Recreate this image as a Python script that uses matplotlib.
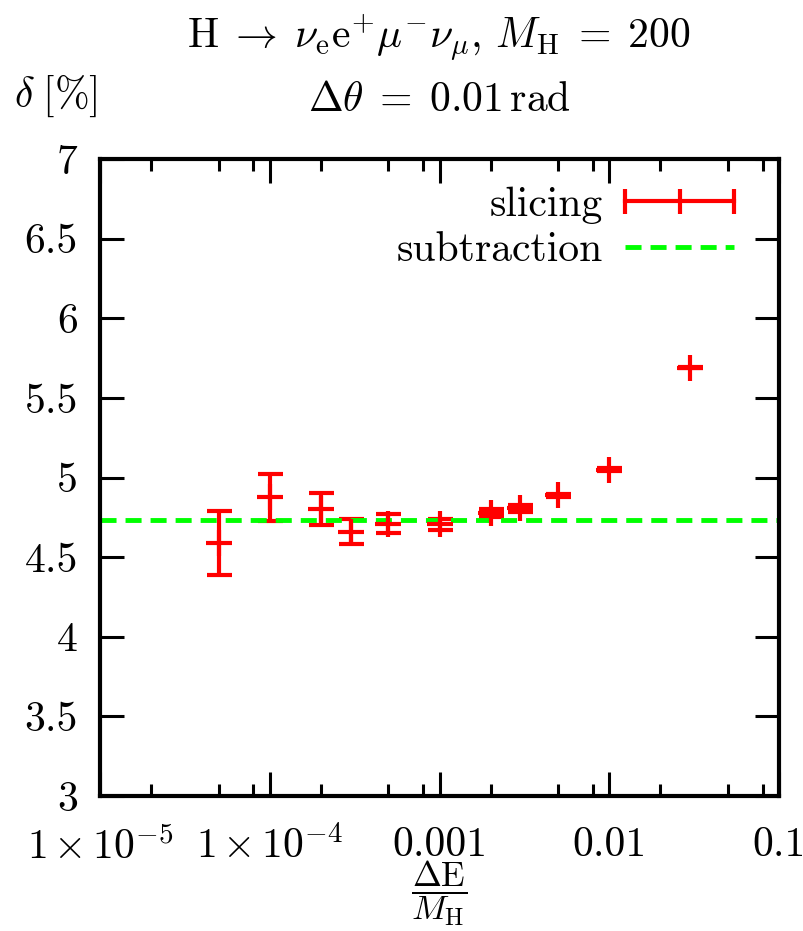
import numpy as np
import matplotlib
matplotlib.use("Agg")
import matplotlib.pyplot as plt
from matplotlib.lines import Line2D
from matplotlib.legend_handler import HandlerBase
from matplotlib.ticker import FixedLocator, NullFormatter

plt.rcParams['font.family'] = 'cmr10'
plt.rcParams['mathtext.fontset'] = 'cm'
plt.rcParams['axes.formatter.use_mathtext'] = True

# data
dE = [5e-5, 1e-4, 2e-4, 3e-4, 5e-4, 1e-3, 2e-3, 3e-3, 5e-3, 1e-2, 3e-2]
delta_slicing = [4.59, 4.875, 4.80, 4.66, 4.71, 4.705, 4.78, 4.806, 4.887, 5.05, 5.69]
delta_err = [0.20, 0.15, 0.10, 0.08, 0.06, 0.035, 0.025, 0.02, 0.01, 0.008, 0.005]
delta_subtraction = 4.73

xticks = [1e-5, 1e-4, 1e-3, 1e-2, 1e-1]
xtick_labels = [r'$1\,{\times}\,10^{-5}$', r'$1\,{\times}\,10^{-4}$', '0.001', '0.01', '0.1']
yticks = [3, 3.5, 4, 4.5, 5, 5.5, 6, 6.5, 7]
ytick_labels = ['3', '3.5', '4', '4.5', '5', '5.5', '6', '6.5', '7']

RED = '#ff0000'
GREEN = '#00ff00'
FS = 30
LW = 3


class HandlerHErr(HandlerBase):
    # gnuplot style key sample: horizontal bar with caps and middle tick
    def create_artists(self, legend, orig_handle, xdescent, ydescent,
                       width, height, fontsize, trans):
        y = height / 2 - ydescent
        x0, x1 = -xdescent, -xdescent + width
        bar = Line2D([x0, x1], [y, y], color=RED, lw=LW, transform=trans)
        caps = Line2D([x0, (x0 + x1) / 2, x1], [y, y, y], ls='', marker='|',
                      ms=18, mew=LW, color=RED, transform=trans)
        return [bar, caps]


fig = plt.figure(figsize=(8.04, 9.31), dpi=100)
ax = fig.add_axes([100/804, 1 - 796/931, 679/804, 637/931])

eb = ax.errorbar(dE, delta_slicing, yerr=delta_err, fmt='+', color=RED,
                 ms=19, mew=LW, elinewidth=LW, capsize=9, capthick=LW)
sub = ax.axhline(delta_subtraction, color=GREEN, lw=3.5, dashes=(3.3, 1.85))

ax.set_xscale('log')
ax.set_xlim(1e-5, 1e-1)
ax.set_ylim(3, 7)
ax.set_xticks(xticks, labels=xtick_labels)
ax.xaxis.set_minor_locator(FixedLocator(
    [m * d for d in [1e-5, 1e-4, 1e-3, 1e-2] for m in (2, 5, 8)]))
ax.xaxis.set_minor_formatter(NullFormatter())
ax.set_yticks(yticks, labels=ytick_labels)

ax.tick_params(which='both', direction='in', top=True, right=True,
               labelsize=FS, width=2.2)
ax.tick_params(which='major', length=17)
ax.tick_params(which='minor', length=8.5)
ax.tick_params(axis='y', pad=16)
ax.tick_params(axis='x', pad=22)
for s in ax.spines.values():
    s.set_linewidth(3)

ax.legend([eb, sub], ['slicing', 'subtraction'],
          handler_map={type(eb): HandlerHErr()},
          loc='upper right', bbox_to_anchor=((738 - 100) / 679, 1 - 23 / 637),
          bbox_transform=ax.transAxes, frameon=False, fontsize=FS,
          markerfirst=False, handlelength=2.6, handletextpad=0.55,
          labelspacing=0.2, borderpad=0.1, borderaxespad=0)

fig.text(439/804, 1 - 38/931,
         r'$\mathrm{H}\;\rightarrow\;\nu_\mathrm{e}\mathrm{e}^{+}\mu^{-}\nu_\mu,\,M_\mathrm{H}\;=\;200$',
         ha='center', va='center', fontsize=FS)
fig.text(439/804, 1 - 100/931, r'$\Delta\theta\;=\;0.01\,\mathrm{rad}$',
         ha='center', va='center', fontsize=FS)
fig.text(14/804, 1 - 96/931, r'$\delta\;[\%]$', ha='left', va='center', fontsize=FS)
fig.text(439/804, 1 - 893/931, r'$\dfrac{\Delta\mathrm{E}}{M_\mathrm{H}}$',
         ha='center', va='center', fontsize=25)

fig.savefig('out.png', dpi=100)
